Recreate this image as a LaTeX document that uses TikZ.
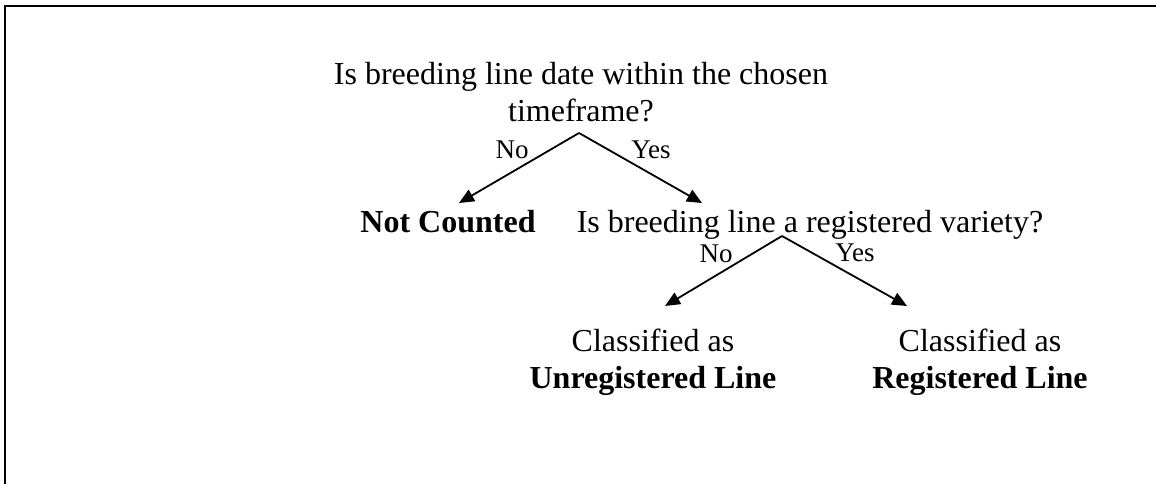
\documentclass[tikz,border=0pt]{standalone}
\usepackage{fontspec}
\setmainfont{Liberation Serif}
\usetikzlibrary{arrows.meta}
\begin{document}
\begin{tikzpicture}[x=1pt,y=-1pt,
  main/.style={font=\fontsize{32}{37}\selectfont, inner sep=0pt, align=center},
  lab/.style={font=\fontsize{27}{30}\selectfont, inner sep=0pt},
  arr/.style={line width=1.8pt, line join=miter, -{Triangle[length=15pt,width=13pt]}}]
\useasboundingbox (0,0) rectangle (1156,484);
\draw[line width=2pt] (5,484) -- (5,6) -- (1156,6);

\node[main, anchor=north] (q1) at (581,62) {Is breeding line date within the chosen\\timeframe?};
\node[main, anchor=base] (nc) at (448,232) {\textbf{Not Counted}};
\node[main, anchor=base] (q2) at (810,232) {Is breeding line a registered variety?};
\node[main, anchor=north] (ul) at (653,329) {Classified as\\\textbf{Unregistered Line}};
\node[main, anchor=north] (rl) at (980,329) {Classified as\\\textbf{Registered Line}};

\coordinate (a1) at (579,133);
\coordinate (t1l) at (459,203);
\coordinate (t1r) at (702,203);
\coordinate (a2) at (782,236);
\coordinate (t2l) at (665,306);
\coordinate (t2r) at (907,306);

\draw[arr] (a1) -- (t1l);
\draw[arr] (a1) -- (t1r);
\draw[arr] (a2) -- (t2l);
\draw[arr] (a2) -- (t2r);

\node[lab] (no1) at (512,150) {No};
\node[lab] (yes1) at (651,150) {Yes};
\node[lab] (no2) at (716,254) {No};
\node[lab] (yes2) at (855,253) {Yes};
\end{tikzpicture}
\end{document}
